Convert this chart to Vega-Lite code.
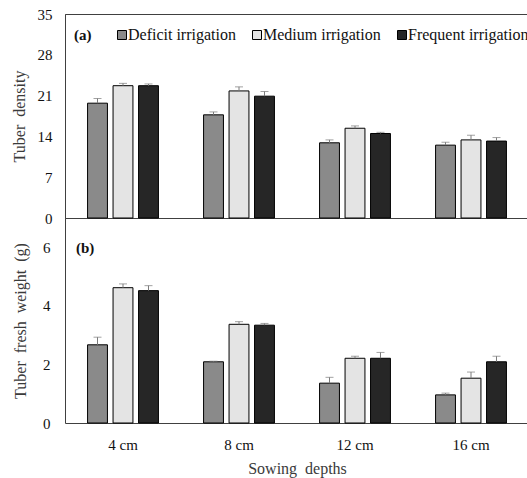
{
  "$schema": "https://vega.github.io/schema/vega-lite/v6.json",
  "background": "white",
  "padding": {"left": 10, "top": 6, "right": 0, "bottom": 3},
  "bounds": "flush",
  "spacing": 0,
  "config": {
    "font": "Liberation Serif",
    "view": {"stroke": null},
    "axis": {
      "labelFont": "Liberation Serif",
      "titleFont": "Liberation Serif",
      "labelFontSize": 15,
      "titleFontSize": 16,
      "titleFontWeight": "normal",
      "labelColor": "#111111",
      "titleColor": "#3a3a3a",
      "domainColor": "#404040",
      "ticks": false,
      "grid": false
    }
  },
  "datasets": {
    "density": [
      {"depth": "4 cm", "treat": "Deficit irrigation", "value": 19.7, "upper": 20.5},
      {"depth": "4 cm", "treat": "Medium irrigation", "value": 22.7, "upper": 23.1},
      {"depth": "4 cm", "treat": "Frequent irrigation", "value": 22.7, "upper": 23.0},
      {"depth": "8 cm", "treat": "Deficit irrigation", "value": 17.7, "upper": 18.2},
      {"depth": "8 cm", "treat": "Medium irrigation", "value": 21.8, "upper": 22.5},
      {"depth": "8 cm", "treat": "Frequent irrigation", "value": 20.9, "upper": 21.7},
      {"depth": "12 cm", "treat": "Deficit irrigation", "value": 12.9, "upper": 13.4},
      {"depth": "12 cm", "treat": "Medium irrigation", "value": 15.4, "upper": 15.8},
      {"depth": "12 cm", "treat": "Frequent irrigation", "value": 14.5, "upper": 14.7},
      {"depth": "16 cm", "treat": "Deficit irrigation", "value": 12.5, "upper": 13.0},
      {"depth": "16 cm", "treat": "Medium irrigation", "value": 13.4, "upper": 14.2},
      {"depth": "16 cm", "treat": "Frequent irrigation", "value": 13.2, "upper": 13.8}
    ],
    "weight": [
      {"depth": "4 cm", "treat": "Deficit irrigation", "value": 2.67, "upper": 2.93},
      {"depth": "4 cm", "treat": "Medium irrigation", "value": 4.62, "upper": 4.75},
      {"depth": "4 cm", "treat": "Frequent irrigation", "value": 4.52, "upper": 4.69},
      {"depth": "8 cm", "treat": "Deficit irrigation", "value": 2.09, "upper": 2.11},
      {"depth": "8 cm", "treat": "Medium irrigation", "value": 3.37, "upper": 3.46},
      {"depth": "8 cm", "treat": "Frequent irrigation", "value": 3.34, "upper": 3.40},
      {"depth": "12 cm", "treat": "Deficit irrigation", "value": 1.36, "upper": 1.56},
      {"depth": "12 cm", "treat": "Medium irrigation", "value": 2.21, "upper": 2.28},
      {"depth": "12 cm", "treat": "Frequent irrigation", "value": 2.21, "upper": 2.41},
      {"depth": "16 cm", "treat": "Deficit irrigation", "value": 0.96, "upper": 1.02},
      {"depth": "16 cm", "treat": "Medium irrigation", "value": 1.53, "upper": 1.74},
      {"depth": "16 cm", "treat": "Frequent irrigation", "value": 2.09, "upper": 2.28}
    ]
  },
  "vconcat": [
    {
      "width": 464,
      "height": 204,
      "view": {"stroke": "#404040", "strokeWidth": 1},
      "data": {"name": "density"},
      "encoding": {
        "x": {"field": "depth", "type": "nominal", "sort": ["4 cm", "8 cm", "12 cm", "16 cm"],
              "scale": {"paddingInner": 0, "paddingOuter": 0},
              "axis": {"labels": false, "title": null, "domain": true}},
        "xOffset": {"field": "treat", "type": "nominal",
                    "sort": ["Deficit irrigation", "Medium irrigation", "Frequent irrigation"],
                    "scale": {"paddingInner": 0.22, "paddingOuter": 0.885}}
      },
      "layer": [
        {
          "mark": {"type": "bar", "stroke": "#000000", "strokeWidth": 1},
          "encoding": {
            "y": {"field": "value", "type": "quantitative",
                  "scale": {"domain": [0, 35], "nice": false},
                  "axis": {"values": [0, 7, 14, 21, 28, 35], "title": "Tuber\u00a0\u00a0density", "labelPadding": 13, "titlePadding": 10}},
            "fill": {"field": "treat", "type": "nominal",
                     "sort": ["Deficit irrigation", "Medium irrigation", "Frequent irrigation"],
                     "scale": {"domain": ["Deficit irrigation", "Medium irrigation", "Frequent irrigation"],
                               "range": ["#8a8a8a", "#e4e4e4", "#262626"]},
                     "legend": {
                       "title": "(a)", "titleOrient": "left", "titleFont": "Liberation Serif",
                       "titleFontSize": 15, "titleFontWeight": "bold", "titleColor": "#111111", "titlePadding": 22,
                       "orient": "none", "legendX": 9, "legendY": 13, "direction": "horizontal",
                       "symbolType": "square", "symbolSize": 81, "symbolStrokeColor": "#000000", "symbolStrokeWidth": 1,
                       "labelFont": "Liberation Serif", "labelFontSize": 16, "labelColor": "#111111",
                       "labelOffset": -2, "columnPadding": 13, "labelLimit": 300
                     }}
          }
        },
        {
          "mark": {"type": "rule", "color": "#7a7a7a", "strokeWidth": 1},
          "encoding": {"y": {"field": "value", "type": "quantitative"}, "y2": {"field": "upper"}}
        },
        {
          "mark": {"type": "tick", "color": "#7a7a7a", "thickness": 1, "size": 8},
          "encoding": {"y": {"field": "upper", "type": "quantitative"}}
        }
      ]
    },
    {
      "width": 464,
      "height": 205,
      "data": {"name": "weight"},
      "title": {"text": "(b)", "anchor": "start", "frame": "group", "fontSize": 15, "fontWeight": "bold",
                "font": "Liberation Serif", "color": "#111111", "dx": 11, "dy": 38, "offset": 0},
      "encoding": {
        "x": {"field": "depth", "type": "nominal", "sort": ["4 cm", "8 cm", "12 cm", "16 cm"],
              "scale": {"paddingInner": 0, "paddingOuter": 0},
              "axis": {"labelAngle": 0, "title": "Sowing\u00a0\u00a0depths", "labelPadding": 14, "titlePadding": 8}},
        "xOffset": {"field": "treat", "type": "nominal",
                    "sort": ["Deficit irrigation", "Medium irrigation", "Frequent irrigation"],
                    "scale": {"paddingInner": 0.22, "paddingOuter": 0.885}}
      },
      "layer": [
        {
          "mark": {"type": "bar", "stroke": "#000000", "strokeWidth": 1},
          "encoding": {
            "y": {"field": "value", "type": "quantitative",
                  "scale": {"domain": [0, 7], "nice": false},
                  "axis": {"values": [0, 2, 4, 6], "title": "Tuber\u00a0\u00a0fresh\u00a0\u00a0weight\u00a0\u00a0(g)", "labelPadding": 15, "titlePadding": 14}},
            "fill": {"field": "treat", "type": "nominal",
                     "sort": ["Deficit irrigation", "Medium irrigation", "Frequent irrigation"],
                     "scale": {"domain": ["Deficit irrigation", "Medium irrigation", "Frequent irrigation"],
                               "range": ["#8a8a8a", "#e4e4e4", "#262626"]},
                     "legend": null}
          }
        },
        {
          "mark": {"type": "rule", "color": "#7a7a7a", "strokeWidth": 1},
          "encoding": {"y": {"field": "value", "type": "quantitative"}, "y2": {"field": "upper"}}
        },
        {
          "mark": {"type": "tick", "color": "#7a7a7a", "thickness": 1, "size": 8},
          "encoding": {"y": {"field": "upper", "type": "quantitative"}}
        }
      ]
    }
  ],
  "resolve": {"scale": {"fill": "shared"}}
}
